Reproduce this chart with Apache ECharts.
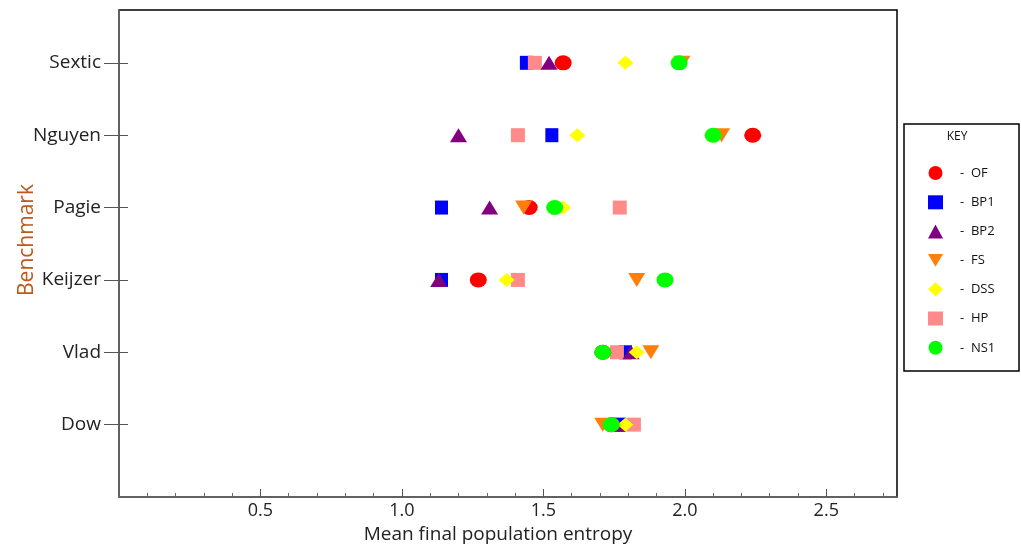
<!DOCTYPE html>
<html>
<head>
<meta charset="utf-8">
<script src="https://cdn.jsdelivr.net/npm/echarts@6/dist/echarts.min.js"></script>
<style>html,body{margin:0;padding:0;background:#fff}#c{width:1021px;height:550px}</style>
</head>
<body>
<div id="c"></div>
<script>
// Benchmarks, top to bottom
const categories = ['Sextic', 'Nguyen', 'Pagie', 'Keijzer', 'Vlad', 'Dow'];
const xTicks = [0.5, 1.0, 1.5, 2.0, 2.5];
// Mean final population entropy per benchmark (same order as categories)
const OF  = [1.57, 2.24, 1.45, 1.27, 1.71, 1.74];
const BP1 = [1.44, 1.53, 1.14, 1.14, 1.79, 1.77];
const BP2 = [1.52, 1.20, 1.31, 1.13, 1.81, 1.76];
const FS  = [1.99, 2.13, 1.43, 1.83, 1.88, 1.71];
const DSS = [1.79, 1.62, 1.57, 1.37, 1.83, 1.79];
const HP  = [1.47, 1.41, 1.77, 1.41, 1.76, 1.82];
const NS1 = [1.98, 2.10, 1.54, 1.93, 1.71, 1.74];

const FONT = '"Open Sans"';
const n = categories.length;
const toPts = arr => arr.map((v, i) => [v, n - i]);

const seriesDefs = [
  {name: 'OF',  data: OF,  color: '#FF0000', symbol: 'circle',   size: [17, 15], z: 6},
  {name: 'BP1', data: BP1, color: '#0000FF', symbol: 'rect',     size: [13, 14], z: 2},
  {name: 'BP2', data: BP2, color: '#800080', symbol: 'triangle', size: [17, 14], z: 4},
  {name: 'FS',  data: FS,  color: '#FF7F0A', symbol: 'path://M0,0L20,0L10,17Z', size: [17, 14], z: 7},
  {name: 'DSS', data: DSS, color: '#FFFF00', symbol: 'diamond',  size: [16, 14], z: 8},
  {name: 'HP',  data: HP,  color: '#FF8A8A', symbol: 'rect',     size: [14, 14], z: 3},
  {name: 'NS1', data: NS1, color: '#00FF00', symbol: 'circle',   size: [17, 15], z: 9}
];

const chart = echarts.init(document.getElementById('c'), null, {renderer: 'canvas'});
const ymax = 6.73;
chart.setOption({
  animation: false,
  backgroundColor: '#fff',
  grid: {left: 119, right: 124, top: 10, bottom: 53, outerBoundsMode: 'none', containLabel: false,
    show: true, borderColor: '#000', borderWidth: 1.5, backgroundColor: 'transparent'},
  xAxis: {
    type: 'value', min: 0, max: 2.75, interval: 0.5,
    name: 'Mean final population entropy', nameLocation: 'middle', nameGap: 25,
    nameTextStyle: {fontFamily: FONT, fontSize: 19, color: '#222', padding: [0, 20, 0, 0]},
    axisLine: {show: true, lineStyle: {color: '#6e6e6e', width: 1.5}},
    axisTick: {show: true, inside: true, length: 8, lineStyle: {color: '#555'}, customValues: xTicks},
    minorTick: {show: true, splitNumber: 5, length: 4, lineStyle: {color: '#666'}},
    splitLine: {show: false},
    axisLabel: {fontFamily: FONT, fontSize: 18, color: '#222', margin: 5, customValues: xTicks,
      formatter: v => v.toFixed(1)}
  },
  yAxis: [{
    type: 'value', min: 0, max: ymax, interval: 1,
    axisLine: {show: true, lineStyle: {color: '#6e6e6e', width: 1.5}},
    axisTick: {show: true, inside: false, length: 15, lineStyle: {color: '#555'}, customValues: [1, 2, 3, 4, 5, 6]},
    splitLine: {show: false},
    axisLabel: {fontFamily: FONT, fontSize: 19, color: '#222', margin: 18, customValues: [1, 2, 3, 4, 5, 6],
      formatter: v => categories[n - Math.round(v)] || ''}
  }, {
    type: 'value', min: 0, max: ymax, interval: 1, position: 'left',
    axisLine: {show: false},
    axisTick: {show: true, inside: true, length: 9, lineStyle: {color: '#555'}, customValues: [1, 2, 3, 4, 5, 6]},
    axisLabel: {show: false}, splitLine: {show: false}
  }],
  legend: {
    orient: 'vertical', left: 928, top: 166, itemGap: 15.3,
    itemWidth: 15, itemHeight: 14, padding: 0,
    textStyle: {fontFamily: FONT, fontSize: 13, color: '#111', padding: [0, 0, 0, 12]},
    formatter: name => '-  ' + name,
    data: seriesDefs.map(s => s.name)
  },
  graphic: [
    {type: 'rect', shape: {x: 904, y: 124, width: 115, height: 247}, style: {fill: 'none', stroke: '#000', lineWidth: 1.5}},
    {type: 'text', x: 957, y: 137, style: {text: 'KEY', fontFamily: FONT, fontSize: 12, fill: '#111', align: 'center', verticalAlign: 'middle'}},
    {type: 'text', x: 27, y: 240, rotation: Math.PI / 2,
      style: {text: 'Benchmark', fontFamily: FONT, fontSize: 21, fill: '#C0581A', align: 'center', verticalAlign: 'middle'}}
  ],
  series: seriesDefs.map(s => ({
    name: s.name, type: 'scatter', z: s.z,
    symbol: s.symbol, symbolSize: s.size,
    itemStyle: {color: s.color, opacity: 1},
    data: toPts(s.data)
  }))
});
</script>
</body>
</html>
